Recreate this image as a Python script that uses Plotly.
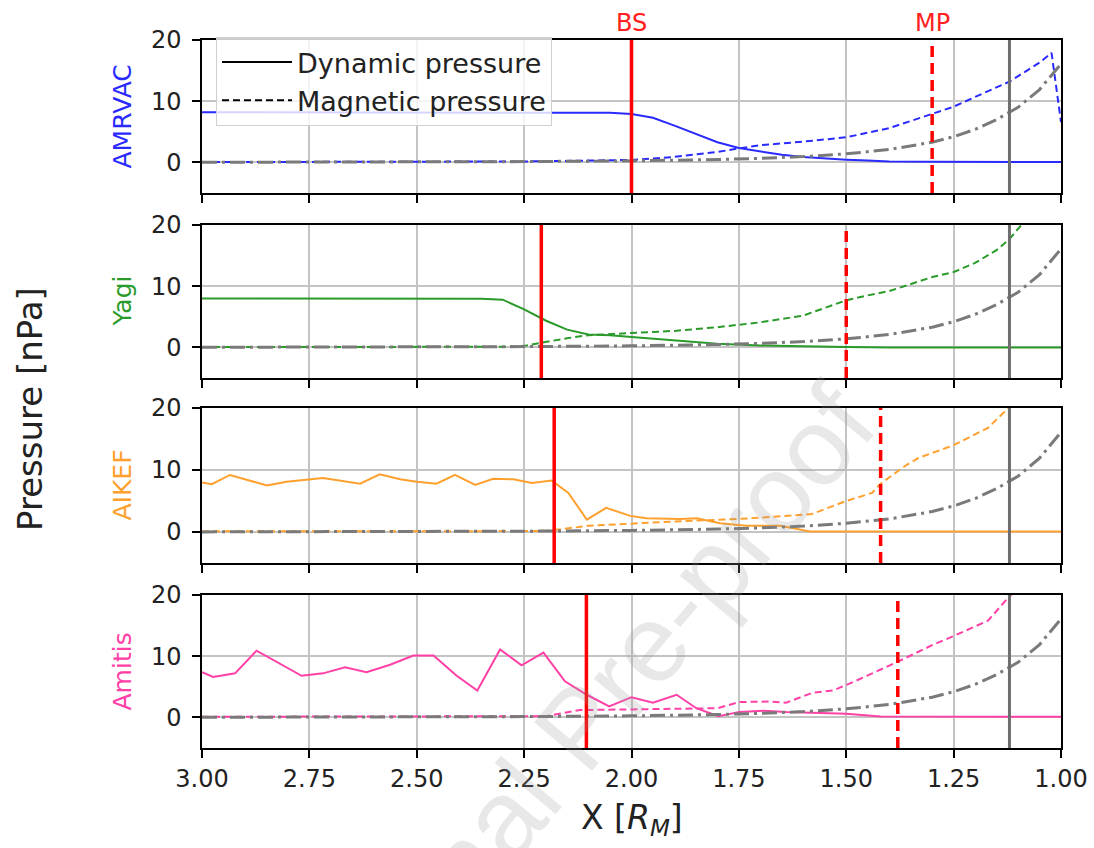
import plotly.graph_objects as go
from plotly.subplots import make_subplots

# ---------------- data ----------------
panel_names = ["AMRVAC", "Yagi", "AIKEF", "Amitis"]
panel_colors = ["#2a2aff", "#2a9a2a", "#ffa02e", "#ff40a6"]

bs_pos = [2.00, 2.21, 2.18, 2.105]
mp_pos = [1.30, 1.50, 1.42, 1.38]
surface_pos = 1.12

# reference magnetic pressure (grey dash-dot, same in every panel)
ref_x = [3.0, 2.75, 2.5, 2.25, 2.0, 1.9, 1.8, 1.7, 1.6, 1.5, 1.4, 1.3, 1.25, 1.2, 1.15, 1.12, 1.1, 1.05, 1.0]
ref_y = [0.02, 0.04, 0.07, 0.13, 0.25, 0.33, 0.47, 0.66, 0.95, 1.4, 2.1, 3.3, 4.2, 5.4, 7.0, 8.2, 9.0, 11.9, 16.1]

# AMRVAC
amrvac_dyn_x = [3.0, 2.5, 2.2, 2.1, 2.05, 2.0, 1.95, 1.9, 1.85, 1.8, 1.75, 1.7, 1.65, 1.6, 1.55, 1.5, 1.45, 1.4, 1.3, 1.2, 1.1, 1.0]
amrvac_dyn_y = [8.2, 8.2, 8.2, 8.15, 8.1, 7.9, 7.3, 6.0, 4.7, 3.3, 2.35, 1.8, 1.25, 0.9, 0.65, 0.45, 0.3, 0.15, 0.1, 0.08, 0.05, 0.05]
amrvac_mag_x = [3.0, 2.5, 2.25, 2.1, 2.0, 1.9, 1.8, 1.75, 1.7, 1.6, 1.5, 1.4, 1.3, 1.25, 1.2, 1.12, 1.05, 1.022, 1.0]
amrvac_mag_y = [0.05, 0.05, 0.15, 0.3, 0.4, 0.9, 1.7, 2.3, 2.8, 3.4, 4.1, 5.6, 8.0, 9.1, 10.7, 13.2, 16.3, 17.9, 6.6]

# Yagi
yagi_dyn_x = [3.0, 2.5, 2.35, 2.3, 2.25, 2.2, 2.15, 2.1, 2.05, 2.0, 1.95, 1.9, 1.85, 1.8, 1.7, 1.6, 1.5, 1.4, 1.0]
yagi_dyn_y = [8.0, 8.0, 7.95, 7.8, 6.2, 4.4, 2.9, 2.1, 2.0, 1.7, 1.4, 1.1, 0.8, 0.6, 0.3, 0.15, 0.05, 0.0, 0.0]
yagi_mag_x = [3.0, 2.5, 2.3, 2.25, 2.2, 2.15, 2.1, 2.0, 1.9, 1.8, 1.75, 1.7, 1.6, 1.5, 1.45, 1.4, 1.3, 1.25, 1.2, 1.15, 1.12, 1.09, 1.05, 1.0]
yagi_mag_y = [0.05, 0.05, 0.1, 0.25, 0.9, 1.5, 2.0, 2.3, 2.7, 3.3, 3.7, 4.1, 5.2, 7.7, 8.5, 9.2, 11.5, 12.3, 13.8, 15.9, 17.7, 20.0, 23.5, 28.0]

# AIKEF
aikef_dyn_x = [3.0, 2.977, 2.935, 2.849, 2.803, 2.753, 2.718, 2.632, 2.586, 2.539, 2.5, 2.454, 2.411, 2.364,
               2.322, 2.275, 2.232, 2.186, 2.147, 2.104, 2.059, 2.003, 1.965, 1.887, 1.848, 1.794, 1.732,
               1.654, 1.584, 1.5, 1.0]
aikef_dyn_y = [8.0, 7.7, 9.2, 7.5, 8.1, 8.5, 8.7, 7.8, 9.3, 8.5, 8.1, 7.8, 9.2, 7.6,
               8.6, 8.5, 7.9, 8.3, 6.3, 2.0, 3.9, 2.6, 2.2, 2.1, 2.2, 1.4, 1.0,
               1.0, 0.1, 0.1, 0.1]
aikef_mag_x = [3.0, 2.5, 2.2, 2.1, 2.0, 1.9, 1.75, 1.65, 1.58, 1.5, 1.44, 1.42, 1.36, 1.33, 1.25, 1.17, 1.127, 1.1, 1.05]
aikef_mag_y = [0.1, 0.1, 0.15, 1.0, 1.4, 1.7, 2.1, 2.6, 2.9, 5.0, 6.3, 7.8, 10.8, 12.0, 14.0, 16.8, 19.7, 21.0, 24.0]

# Amitis
amitis_dyn_x = [3.0, 2.974, 2.923, 2.873, 2.768, 2.718, 2.667, 2.617, 2.562, 2.508, 2.461, 2.407, 2.359,
                2.306, 2.256, 2.205, 2.155, 2.104, 2.052, 2.0, 1.95, 1.895, 1.849, 1.798, 1.748, 1.693,
                1.64, 1.5, 1.42, 1.0]
amitis_dyn_y = [7.4, 6.6, 7.2, 10.9, 6.8, 7.2, 8.2, 7.4, 8.6, 10.1, 10.1, 6.8, 4.4,
                11.1, 8.5, 10.6, 5.9, 3.7, 1.8, 3.3, 2.4, 3.7, 1.5, 0.2, 0.9, 1.1,
                0.9, 0.6, 0.15, 0.1]
amitis_mag_x = [3.0, 2.5, 2.25, 2.2, 2.12, 2.0, 1.8, 1.75, 1.68, 1.64, 1.58, 1.53, 1.48, 1.38, 1.3, 1.25, 1.17, 1.12, 1.08, 1.0]
amitis_mag_y = [0.1, 0.1, 0.1, 0.2, 1.2, 1.3, 1.5, 2.5, 2.6, 2.4, 4.0, 4.4, 5.9, 9.1, 11.8, 13.3, 15.8, 19.8, 22.0, 27.0]

dyn_series = [(amrvac_dyn_x, amrvac_dyn_y), (yagi_dyn_x, yagi_dyn_y), (aikef_dyn_x, aikef_dyn_y), (amitis_dyn_x, amitis_dyn_y)]
mag_series = [(amrvac_mag_x, amrvac_mag_y), (yagi_mag_x, yagi_mag_y), (aikef_mag_x, aikef_mag_y), (amitis_mag_x, amitis_mag_y)]

x_ticks = [3.0, 2.75, 2.5, 2.25, 2.0, 1.75, 1.5, 1.25, 1.0]
y_ticks = [0, 10, 20]

# ---------------- figure ----------------
FONT = "DejaVu Sans"
W, H = 1094, 848
# plot area in page pixels
P_LEFT, P_RIGHT, P_TOP, P_BOTTOM = 202, 1061, 40, 748
ML = P_LEFT
MR = W - P_RIGHT
MT = P_TOP
MB = H - P_BOTTOM
plot_w = W - ML - MR
plot_h = H - MT - MB


def px_to_paper_x(px):
    return (px - P_LEFT) / plot_w


def px_to_paper_y(py):
    return (P_BOTTOM - py) / plot_h


# panel page-pixel extents (top, bottom)
panels_px = [(40, 193), (225, 378), (408, 563), (595, 748)]

fig = make_subplots(rows=4, cols=1)

for i in range(4):
    r = i + 1
    dx, dy = dyn_series[i]
    mx, my = mag_series[i]
    c = panel_colors[i]
    fig.add_trace(go.Scatter(x=dx, y=dy, mode="lines", line=dict(color=c, width=2),
                             showlegend=False, hoverinfo="skip"), row=r, col=1)
    fig.add_trace(go.Scatter(x=mx, y=my, mode="lines", line=dict(color=c, width=2, dash="7px,4px"),
                             showlegend=False, hoverinfo="skip"), row=r, col=1)
    fig.add_trace(go.Scatter(x=ref_x, y=ref_y, mode="lines", line=dict(color="#7a7a7a", width=3, dash="15px,5px,3px,5px"),
                             showlegend=False, hoverinfo="skip"), row=r, col=1)

# legend-only traces
fig.add_trace(go.Scatter(x=[None], y=[None], mode="lines", name="Dynamic pressure",
                         line=dict(color="black", width=2)), row=1, col=1)
fig.add_trace(go.Scatter(x=[None], y=[None], mode="lines", name="Magnetic pressure",
                         line=dict(color="black", width=2, dash="7px,4px")), row=1, col=1)

axis_common = dict(showline=True, linecolor="black", linewidth=1.5, mirror=True,
                   ticks="outside", ticklen=8, tickwidth=1.5, tickcolor="black",
                   showgrid=True, gridcolor="#c4c4c4", gridwidth=1.5, zeroline=False,
                   tickfont=dict(family=FONT, size=24, color="#222222"))

for i in range(4):
    top, bot = panels_px[i]
    d0 = px_to_paper_y(bot)
    d1 = px_to_paper_y(top)
    xa = "xaxis" if i == 0 else f"xaxis{i+1}"
    ya = "yaxis" if i == 0 else f"yaxis{i+1}"
    fig.layout[xa].update(range=[3.0, 1.0], tickvals=x_ticks, ticktext=[f"{v:.2f}" for v in x_ticks],
                          showticklabels=(i == 3), ticklabeloverflow="allow", **axis_common)
    fig.layout[ya].update(domain=[d0, d1], range=[-5, 20], tickvals=y_ticks,
                          ticklabelstandoff=6, **axis_common)

    xr = "x" if i == 0 else f"x{i+1}"
    yr = "y" if i == 0 else f"y{i+1}"
    # surface (grey), bow shock (red solid), magnetopause (red dashed)
    fig.add_shape(type="line", xref=xr, yref=f"{yr} domain", x0=surface_pos, x1=surface_pos, y0=0, y1=1,
                  line=dict(color="#6e6e6e", width=3))
    fig.add_shape(type="line", xref=xr, yref=f"{yr} domain", x0=bs_pos[i], x1=bs_pos[i], y0=0, y1=1,
                  line=dict(color="#ff0000", width=3.5))
    fig.add_shape(type="line", xref=xr, yref=f"{yr} domain", x0=mp_pos[i], x1=mp_pos[i], y0=0, y1=1,
                  line=dict(color="#ff0000", width=3.5, dash="11px,6px"))

    # panel name label
    fig.add_annotation(text=panel_names[i], xref="paper", yref="paper",
                       x=px_to_paper_x(122), y=(d0 + d1) / 2, textangle=-90,
                       showarrow=False, xanchor="center", yanchor="middle",
                       font=dict(family=FONT, size=25, color=panel_colors[i]))

# BS / MP labels
fig.add_annotation(text="BS", xref="x", yref="y domain", x=bs_pos[0], y=1, yanchor="bottom", yshift=2,
                   borderpad=0, showarrow=False, font=dict(family=FONT, size=24, color="#ff2020"))
fig.add_annotation(text="MP", xref="x", yref="y domain", x=mp_pos[0], y=1, yanchor="bottom", yshift=2,
                   borderpad=0, showarrow=False, font=dict(family=FONT, size=24, color="#ff2020"))

# global axis titles
fig.add_annotation(text="Pressure [nPa]", xref="paper", yref="paper",
                   x=px_to_paper_x(30), y=px_to_paper_y(409), textangle=-90,
                   showarrow=False, xanchor="center", yanchor="middle",
                   font=dict(family=FONT, size=34, color="#222222"))
fig.add_annotation(text="X [<i>R</i><sub><i>M</i></sub>]", xref="paper", yref="paper",
                   x=0.5, y=px_to_paper_y(819), showarrow=False, xanchor="center", yanchor="middle",
                   borderpad=0, font=dict(family=FONT, size=33, color="#222222"))

# watermark
fig.add_annotation(text="Journal Pre-proof", xref="paper", yref="paper",
                   x=px_to_paper_x(578), y=px_to_paper_y(727), textangle=-50,
                   showarrow=False, xanchor="center", yanchor="middle",
                   font=dict(family="Liberation Sans", size=110, color="rgba(150,150,150,0.22)"))

fig.update_layout(
    width=W, height=H,
    margin=dict(l=ML, r=MR, t=MT, b=MB, autoexpand=False),
    paper_bgcolor="white", plot_bgcolor="white",
    font=dict(family=FONT, size=24, color="#222222"),
    legend=dict(x=px_to_paper_x(216), y=px_to_paper_y(37), xanchor="left", yanchor="top",
                bgcolor="rgba(255,255,255,0.8)", bordercolor="#d0d0d0", borderwidth=1,
                font=dict(family=FONT, size=27, color="#222222"), itemwidth=70),
)

fig.write_html("out.html", config={"displayModeBar": False},
               post_script="document.body.style.margin='0';document.body.style.overflow='hidden';")
